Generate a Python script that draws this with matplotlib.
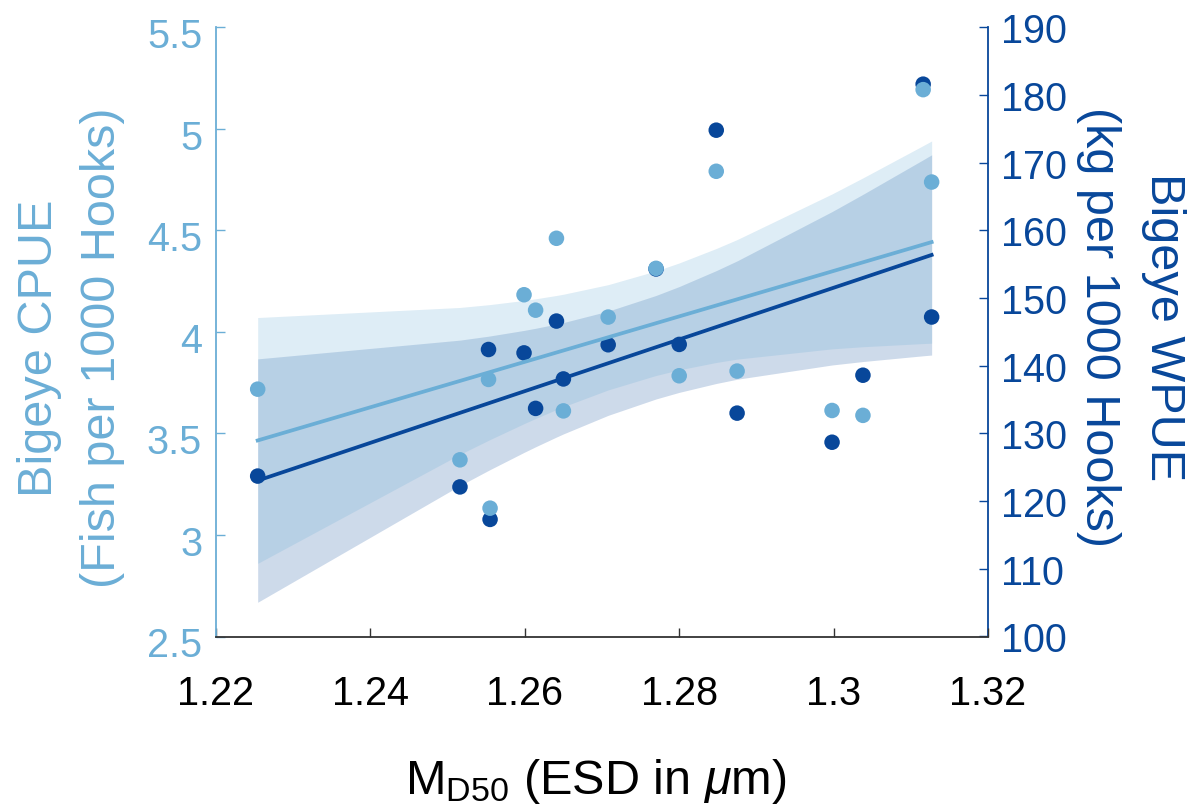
import numpy as np
import matplotlib
matplotlib.use("Agg")
import matplotlib.pyplot as plt
import matplotlib.transforms as mtransforms
from matplotlib.ticker import FixedLocator, FuncFormatter

plt.rcParams['font.family'] = ['Liberation Sans', 'DejaVu Sans']
plt.rcParams['mathtext.fontset'] = 'custom'
plt.rcParams['mathtext.rm'] = 'Liberation Sans'
plt.rcParams['mathtext.it'] = 'Liberation Sans:italic'

# ---- data ----
md50 = [1.2254, 1.2516, 1.2553, 1.2555, 1.2599, 1.2614, 1.2641, 1.2650, 1.2708,
        1.2770, 1.2800, 1.2848, 1.2875, 1.2998, 1.3038, 1.3116, 1.3127]
cpue = [3.718, 3.370, 3.766, 3.132, 4.183, 4.107, 4.461, 3.611, 4.073,
        4.313, 3.784, 4.791, 3.807, 3.613, 3.589, 5.193, 4.738]
wpue = [123.7, 122.1, 142.4, 117.3, 141.9, 133.7, 146.6, 138.05, 143.1,
        154.3, 143.15, 174.8, 133.0, 128.7, 138.6, 181.6, 147.2]

x_ticks = [1.22, 1.24, 1.26, 1.28, 1.30, 1.32]
cpue_ticks = [2.5, 3, 3.5, 4, 4.5, 5, 5.5]
wpue_ticks = [100, 110, 120, 130, 140, 150, 160, 170, 180, 190]

LIGHT = '#6baed6'
DARK = '#08479a'
T_CRIT = 2.1314  # t(0.975, n-2=15)


def fit_with_ci(x, y):
    x = np.asarray(x, float)
    y = np.asarray(y, float)
    n = len(x)
    b1, b0 = np.polyfit(x, y, 1)
    resid = y - (b0 + b1 * x)
    s = np.sqrt(np.sum(resid ** 2) / (n - 2))
    xm = x.mean()
    sxx = np.sum((x - xm) ** 2)
    xs = np.sort(x)
    yhat = b0 + b1 * xs
    half = T_CRIT * s * np.sqrt(1.0 / n + (xs - xm) ** 2 / sxx)
    return xs, yhat, yhat - half, yhat + half


fig = plt.figure(figsize=(11.91, 8.12), dpi=100)
ax1 = fig.add_axes([216 / 1191, 1 - 637.5 / 812, (988 - 216) / 1191, (637.5 - 28.3) / 812])
ax2 = ax1.twinx()
ax1.set_zorder(ax2.get_zorder() + 1)
ax1.patch.set_visible(False)

ax1.set_xlim(1.22, 1.32)
ax1.set_ylim(2.5, 5.5)
ax2.set_ylim(100, 190)

xw, yw, low, hiw = fit_with_ci(md50, wpue)
xc, yc, loc, hic = fit_with_ci(md50, cpue)

# confidence bands (both below the lines and points)
ax2.fill_between(xw, low, hiw, color=DARK, alpha=0.2, linewidth=0, zorder=1)
ax2.fill_between(xc, loc, hic, color=LIGHT, alpha=0.22, linewidth=0, zorder=1.5,
                 transform=ax1.transData)

# WPUE (right axis)
ax2.plot(xw, yw, color=DARK, lw=2.7, zorder=2)
ax2.scatter(md50, wpue, s=125, color=DARK, edgecolors='none', zorder=3)

# CPUE (left axis)
ax1.plot(xc, yc, color=LIGHT, lw=2.7, zorder=2)
ax1.scatter(md50, cpue, s=125, color=LIGHT, edgecolors='none', zorder=3)

ax1.set_xlim(1.22, 1.32)
ax1.set_ylim(2.5, 5.5)
ax2.set_ylim(100, 190)

fmt = FuncFormatter(lambda v, p: '%g' % round(v, 4))
ax1.xaxis.set_major_locator(FixedLocator(x_ticks))
ax1.xaxis.set_major_formatter(fmt)
ax1.yaxis.set_major_locator(FixedLocator(cpue_ticks))
ax1.yaxis.set_major_formatter(fmt)
ax2.yaxis.set_major_locator(FixedLocator(wpue_ticks))
ax2.yaxis.set_major_formatter(fmt)

for ax in (ax1, ax2):
    ax.spines['top'].set_visible(False)
ax1.spines['right'].set_visible(False)
ax2.spines['left'].set_visible(False)
ax2.spines['bottom'].set_visible(False)
ax1.spines['left'].set_color(LIGHT)
ax1.spines['bottom'].set_color('#333333')
ax2.spines['right'].set_color(DARK)
for sp in ('left', 'bottom'):
    ax1.spines[sp].set_linewidth(1.3)
ax2.spines['right'].set_linewidth(1.3)

ax1.tick_params(axis='x', direction='in', length=6.3, width=1.0, colors='#333333',
                labelcolor='black', labelsize=28.5, pad=27, top=False)
ax1.tick_params(axis='y', direction='in', length=6.3, width=1.0, colors=LIGHT,
                labelcolor=LIGHT, labelsize=28.5, pad=10, right=False)
ax2.tick_params(axis='y', direction='in', length=6.3, width=1.0, colors=DARK,
                labelcolor=DARK, labelsize=28.5, pad=9)

shift = mtransforms.ScaledTranslation(0, -5 / 100, fig.dpi_scale_trans)
for lab in ax1.get_yticklabels():
    lab.set_transform(lab.get_transform() + shift)

fig.text(71 / 1191, 1 - 348 / 812, 'Bigeye CPUE\n(Fish per 1000 Hooks)', rotation=90,
         ha='center', va='center', fontsize=35, color=LIGHT, linespacing=1.5,
         multialignment='center')
fig.text(1131 / 1191, 1 - 327 / 812, 'Bigeye WPUE\n(kg per 1000 Hooks)', rotation=270,
         ha='center', va='center', fontsize=35, color=DARK, linespacing=1.55,
         multialignment='center')
fig.text(596 / 1191, 1 - 794 / 812, r'M$_{\mathrm{D50}}$ (ESD in $\mu$m)', ha='center',
         va='baseline', fontsize=35, color='black')

fig.savefig('out.png', dpi=100, facecolor='white')
